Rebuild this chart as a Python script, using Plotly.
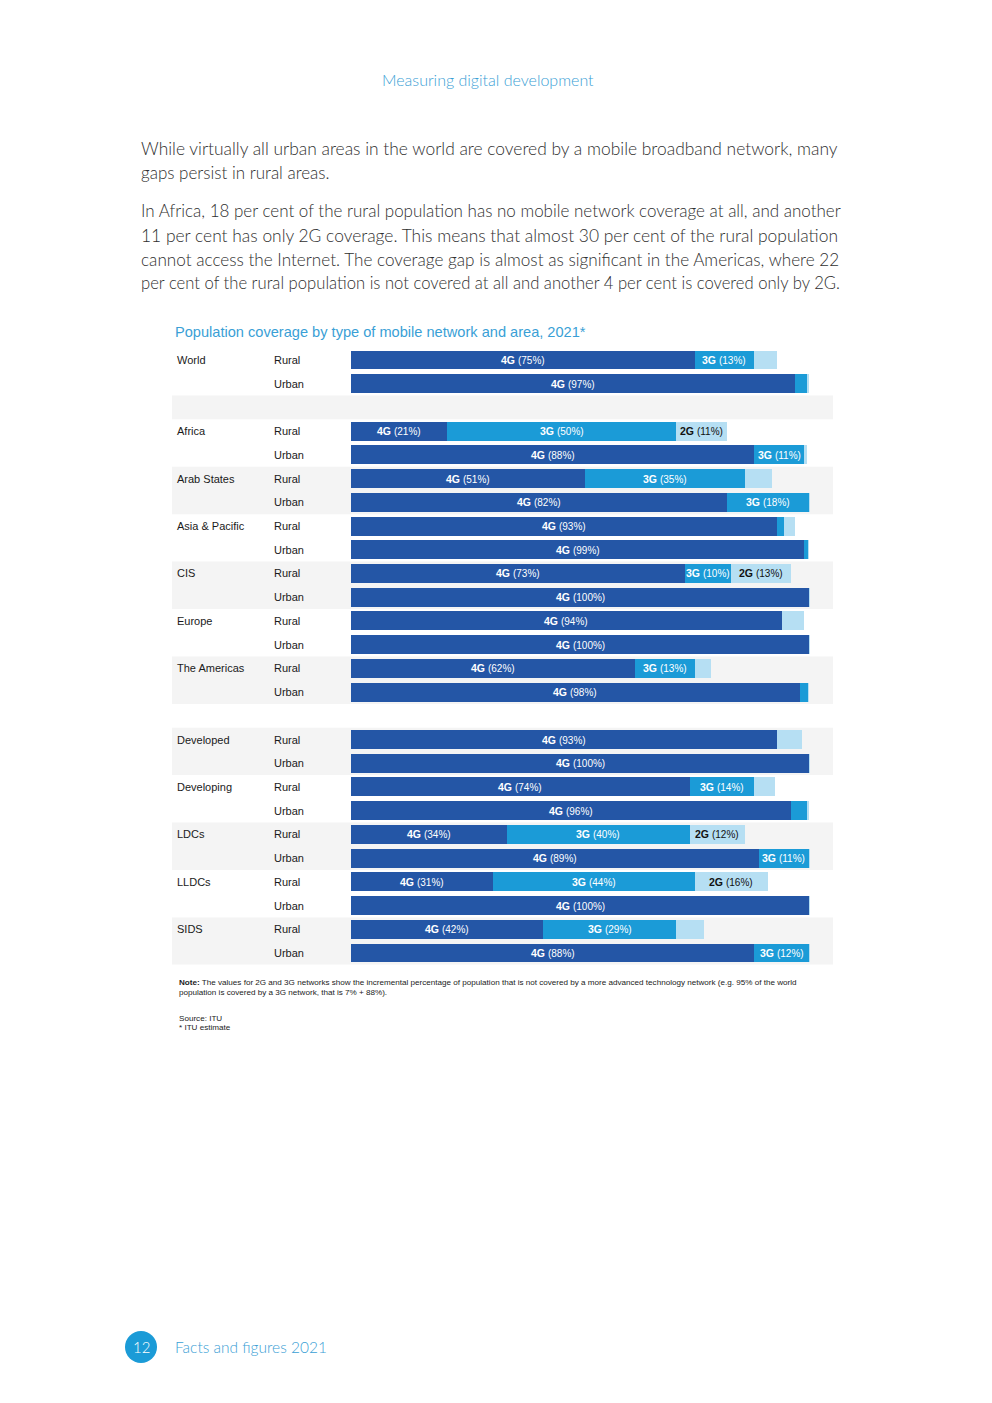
import plotly.graph_objects as go

# ---------------- data ----------------
row_group = ["World", "", "", "Africa", "", "Arab States", "", "Asia & Pacific", "", "CIS", "",
             "Europe", "", "The Americas", "", "", "Developed", "", "Developing", "", "LDCs", "",
             "LLDCs", "", "SIDS", ""]
row_area = ["Rural", "Urban", "", "Rural", "Urban", "Rural", "Urban", "Rural", "Urban", "Rural", "Urban",
            "Rural", "Urban", "Rural", "Urban", "", "Rural", "Urban", "Rural", "Urban", "Rural", "Urban",
            "Rural", "Urban", "Rural", "Urban"]
v4g = [75, 97, None, 21, 88, 51, 82, 93, 99, 73, 100, 94, 100, 62, 98, None,
       93, 100, 74, 96, 34, 89, 31, 100, 42, 88]
v3g = [13, 2.6, None, 50, 11, 35, 18, 1.6, 0.8, 10, 0, 0, 0, 13, 1.8, None,
       0, 0, 14, 3.6, 40, 11, 44, 0, 29, 12]
v2g = [5, 0.4, None, 11, 0.6, 6, 0.3, 2.4, 0.3, 13, 0.3, 5, 0.3, 3.5, 0.3, None,
       5.5, 0.3, 4.5, 0.4, 12, 0.3, 16, 0.3, 6, 0.3]
# shaded (grey) bands: (first row, last row)
bands = [(2, 2), (5, 6), (9, 10), (13, 14), (16, 17), (20, 21), (24, 25)]

body_lines = [
    "While virtually all urban areas in the world are covered by a mobile broadband network, many",
    "gaps persist in rural areas.",
    "In Africa, 18 per cent of the rural population has no mobile network coverage at all, and another",
    "11 per cent has only 2G coverage. This means that almost 30 per cent of the rural population",
    "cannot access the Internet. The coverage gap is almost as significant in the Americas, where 22",
    "per cent of the rural population is not covered at all and another 4 per cent is covered only by 2G.",
]
body_y = [148, 172, 211, 235, 259, 283]
# per-line font size to imitate the justified block width
body_size = [17.4, 17, 17, 17.4, 17.15, 16.65]

C4, C3, C2 = "#2456a6", "#1b9bd7", "#b6dff3"
W, H = 992, 1403


def px(x):
    return x / W


def py(y):
    return 1 - y / H


rows = list(range(len(row_area)))
bar_rows = [i for i in rows if v4g[i] is not None]

fig = go.Figure()
for name, vals, col in [("4G", v4g, C4), ("3G", v3g, C3), ("2G", v2g, C2)]:
    fig.add_trace(go.Bar(
        orientation="h", y=bar_rows, x=[vals[i] for i in bar_rows],
        marker=dict(color=col, line=dict(width=0)), width=0.8, name=name,
        hoverinfo="skip", showlegend=False))

# y axis mapping: row 0 at pixel 360, row 25 at pixel 953
step = (953 - 360) / 25
top_px = 360 - step / 2
bot_px = 953 + step / 2
# x axis: 0 at 351, 100 at 809
xr = [0, 101]
x_end_px = 351 + (809 - 351) * 1.01

fig.update_layout(
    width=W, height=H, autosize=False, margin=dict(l=0, r=0, t=0, b=0),
    paper_bgcolor="white", plot_bgcolor="rgba(0,0,0,0)", barmode="stack", bargap=0,
    xaxis=dict(domain=[px(351), px(x_end_px)], range=xr, visible=False, fixedrange=True),
    yaxis=dict(domain=[py(bot_px), py(top_px)], range=[25.5, -0.5], visible=False, fixedrange=True),
)

shapes = []
for a, b in bands:
    shapes.append(dict(type="rect", xref="paper", yref="y", x0=px(172), x1=px(833),
                       y0=a - 0.5, y1=b + 0.5, fillcolor="#f4f4f4", line=dict(width=0), layer="below"))
# page number circle
shapes.append(dict(type="circle", xref="paper", yref="paper", x0=px(125), x1=px(157),
                   y0=py(1363), y1=py(1331), fillcolor="#1b9bd7", line=dict(width=0)))

ann = []
LBL = dict(family="Liberation Sans, Arial, sans-serif", size=11, color="#1a1a1a")
for i in rows:
    if row_group[i]:
        ann.append(dict(x=px(175), y=i, xref="paper", yref="y", text=row_group[i], showarrow=False,
                        xanchor="left", yanchor="middle", font=LBL))
    if row_area[i]:
        ann.append(dict(x=px(272), y=i, xref="paper", yref="y", text=row_area[i], showarrow=False,
                        xanchor="left", yanchor="middle", font=LBL))

# segment labels
for i in bar_rows:
    start = 0
    for name, vals in [("4G", v4g), ("3G", v3g), ("2G", v2g)]:
        v = vals[i]
        if v >= 10:
            col = "#111111" if name == "2G" else "white"
            ann.append(dict(
                x=start + v / 2, y=i, xref="x", yref="y", showarrow=False,
                xanchor="center", yanchor="middle",
                text=f"<b>{name}</b> <span style='font-size:10px'>({v:g}%)</span>",
                font=dict(family="Liberation Sans, Arial, sans-serif", size=10.5, color=col)))
        start += v

LIGHT = dict(family="Lato, sans-serif", weight=300)
ann.append(dict(x=px(488), y=py(79), xref="paper", yref="paper", showarrow=False,
                text="Measuring digital development", xanchor="center", yanchor="middle",
                font=dict(size=16, color="#3aa0d5", **LIGHT)))
for t, y, s in zip(body_lines, body_y, body_size):
    ann.append(dict(x=px(139), y=py(y), xref="paper", yref="paper", showarrow=False, text=t,
                    xanchor="left", yanchor="middle",
                    font=dict(size=s, color="#303030", **LIGHT)))

ann.append(dict(x=px(173), y=py(332), xref="paper", yref="paper", showarrow=False,
                text="Population coverage by type of mobile network and area, 2021*",
                xanchor="left", yanchor="middle",
                font=dict(family="Liberation Sans, Arial, sans-serif", size=14.6, color="#3a9fd6")))

NOTE = dict(family="Liberation Sans, Arial, sans-serif", size=8.1, color="#222222")
notes = [
    ("<b>Note:</b> The values for 2G and 3G networks show the incremental percentage of population that is not covered by a more advanced technology network (e.g. 95% of the world", 982),
    ("population is covered by a 3G network, that is 7% + 88%).", 992),
    ("Source: ITU", 1018),
    ("* ITU estimate", 1027),
]
for t, y in notes:
    ann.append(dict(x=px(177), y=py(y), xref="paper", yref="paper", showarrow=False, text=t,
                    xanchor="left", yanchor="middle", font=NOTE))

ann.append(dict(x=px(141), y=py(1347), xref="paper", yref="paper", showarrow=False, text="12",
                xanchor="center", yanchor="middle", font=dict(size=15, color="white", **LIGHT)))
ann.append(dict(x=px(173), y=py(1347), xref="paper", yref="paper", showarrow=False,
                text="Facts and figures 2021", xanchor="left", yanchor="middle",
                font=dict(size=15.5, color="#3aa0d5", **LIGHT)))

fig.update_layout(shapes=shapes, annotations=ann)
fig.write_html("out.html", config={"displayModeBar": False, "staticPlot": True},
               post_script="document.body.style.margin='0';document.body.style.overflow='hidden';")
